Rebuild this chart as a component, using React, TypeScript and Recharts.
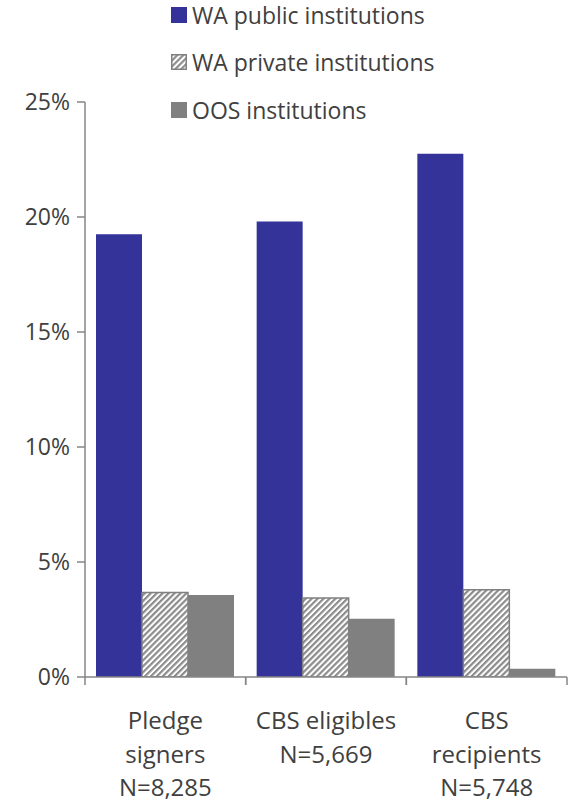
import React from 'react';
import { BarChart, Bar, XAxis, YAxis, Legend } from 'recharts';

const categories = ['Pledge signers', 'CBS eligibles', 'CBS recipients'];
const categoryLabelLines = [
  ['Pledge', 'signers', 'N=8,285'],
  ['CBS eligibles', 'N=5,669'],
  ['CBS', 'recipients', 'N=5,748'],
];
const publicValues = [19.25, 19.8, 22.75];
const privateValues = [3.67, 3.43, 3.79];
const oosValues = [3.57, 2.53, 0.36];
const yTicks = [0, 5, 10, 15, 20, 25];
const seriesNames = ['WA public institutions', 'WA private institutions', 'OOS institutions'];

const data = categories.map((c, i) => ({
  category: c,
  index: i,
  pub: publicValues[i] / 100,
  priv: privateValues[i] / 100,
  oos: oosValues[i] / 100,
}));

const AXIS = '#868686';
const TEXT = '#404040';
const FONT = '"Open Sans", "Noto Sans", sans-serif';
const PUBLIC = '#333399';
const OOS = '#808080';

const XTick = (props: any) => {
  const { x, y, payload, width } = props;
  const idx = payload.index;
  const band = (width || 482) / categories.length;
  const lines = categoryLabelLines[idx] || [];
  return (
    <g>
      <line x1={x - band / 2} y1={y} x2={x - band / 2} y2={y + 8} stroke={AXIS} strokeWidth={1.5} />
      <line x1={x + band / 2} y1={y} x2={x + band / 2} y2={y + 8} stroke={AXIS} strokeWidth={1.5} />
      {lines.map((l, i) => (
        <text key={i} x={x} y={y + 52 + i * 33.5} textAnchor="middle" fill={TEXT} fontSize={24} fontFamily={FONT}>
          {l}
        </text>
      ))}
    </g>
  );
};

const LegendContent = () => {
  return (
    <div style={{ fontFamily: FONT, fontSize: 23, color: TEXT }}>
      {seriesNames.map((n, i) => (
        <div key={n} style={{ display: 'flex', alignItems: 'center', height: 47.5 }}>
          <svg width={16} height={16} style={{ marginRight: 5, flexShrink: 0 }}>
            {i === 1 ? (
              <rect x={0.75} y={0.75} width={14.5} height={14.5} fill="url(#hatch)" stroke="#808080" strokeWidth={1.5} />
            ) : (
              <rect x={0} y={0} width={16} height={16} fill={i === 0 ? PUBLIC : OOS} />
            )}
          </svg>
          <span style={{ whiteSpace: 'nowrap' }}>{n}</span>
        </div>
      ))}
    </div>
  );
};

export default function App() {
  return (
    <div style={{ position: 'absolute', left: 0, top: 0 }}>
      <BarChart
        width={572}
        height={801}
        data={data}
        margin={{ top: 102, right: 5, bottom: 0, left: 0 }}
        barCategoryGap={11}
        barGap={0}
      >
        <defs>
          <pattern id="hatch" patternUnits="userSpaceOnUse" width={4.2} height={4.2} patternTransform="rotate(45)">
            <rect x={0} y={0} width={4.2} height={4.2} fill="#ffffff" />
            <rect x={0} y={0} width={2.2} height={4.2} fill="#8c8c8c" />
          </pattern>
        </defs>
        <Legend
          layout="horizontal"
          verticalAlign="middle"
          align="center"
          content={<LegendContent />}
          wrapperStyle={{ position: 'absolute', left: 171, top: -9, width: 320, height: 145 }}
        />
        <XAxis
          dataKey="category"
          height={124}
          tickLine={false}
          tickSize={0}
          tickMargin={0}
          axisLine={{ stroke: AXIS, strokeWidth: 1.5 }}
          tick={<XTick />}
          interval={0}
        />
        <YAxis
          width={85}
          domain={[0, 0.25]}
          ticks={yTicks.map((t) => t / 100)}
          tickFormatter={(v: number) => `${Math.round(v * 100)}%`}
          tick={{ fill: TEXT, fontSize: 23, fontFamily: FONT }}
          tickSize={8}
          tickMargin={7}
          tickLine={{ stroke: AXIS, strokeWidth: 1.5 }}
          axisLine={{ stroke: AXIS, strokeWidth: 1.5 }}
          allowDataOverflow
        />
        <Bar dataKey="pub" name={seriesNames[0]} fill={PUBLIC} isAnimationActive={false} />
        <Bar dataKey="priv" name={seriesNames[1]} fill="url(#hatch)" stroke="#808080" strokeWidth={1.5} isAnimationActive={false} />
        <Bar dataKey="oos" name={seriesNames[2]} fill={OOS} isAnimationActive={false} />
      </BarChart>
    </div>
  );
}
